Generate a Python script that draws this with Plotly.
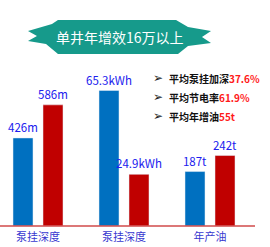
import plotly.graph_objects as go
from plotly.subplots import make_subplots

# ---- data ----
categories = ["泵挂深度", "泵挂深度", "年产油"]
before_values = [426, 65.3, 187]
after_values = [586, 24.9, 242]
before_labels = ["426m", "65.3kWh", "187t"]
after_labels = ["586m", "24.9kWh", "242t"]
y_max = [803, 80, 570]
title_text = "单井年增效16万以上"
bullet_names = ["平均泵挂加深", "平均节电率", "平均年增油"]
bullet_values = ["37.6%", "61.9%", "55t"]

W, H = 270, 247
ML, MR, MT, MB = 0, 0, 60, 21
PW, PH = W - ML - MR, H - MT - MB

def px(x):
    return (x - ML) / PW

def py(y):
    return (H - MB - y) / PH

FONT = "Noto Sans CJK SC"
BLUE = "#0070C0"
RED = "#C00000"

fig = make_subplots(rows=1, cols=3, horizontal_spacing=0)
domains = [(0, 76), (86, 162), (172, 248)]
for i in range(3):
    c = i + 1
    fig.add_trace(go.Bar(x=[categories[i]], y=[before_values[i]], text=[before_labels[i]],
                         marker_color=BLUE, textposition="outside", cliponaxis=False,
                         constraintext="none",
                         textfont=dict(color="#2020ee", size=11.5, family=FONT),
                         showlegend=False), row=1, col=c)
    fig.add_trace(go.Bar(x=[categories[i]], y=[after_values[i]], text=[after_labels[i]],
                         marker_color=RED, textposition="outside", cliponaxis=False,
                         constraintext="none",
                         textfont=dict(color="#2020ee", size=11.5, family=FONT),
                         showlegend=False), row=1, col=c)
    xa = "xaxis" if i == 0 else f"xaxis{c}"
    ya = "yaxis" if i == 0 else f"yaxis{c}"
    fig.layout[xa].update(domain=[px(domains[i][0]), px(domains[i][1])], showgrid=False,
                          showline=False, ticks="", zeroline=False, ticklabelstandoff=3,
                          tickfont=dict(color="#3838d0", size=11, family=FONT))
    fig.layout[ya].update(range=[0, y_max[i]], visible=False, showgrid=False)

fig.update_layout(
    width=W, height=H, margin=dict(l=ML, r=MR, t=MT, b=MB),
    paper_bgcolor="white", plot_bgcolor="white",
    barmode="group", bargap=0.2105, bargroupgap=1/3,
    font=dict(family=FONT),
)

# baseline
fig.add_shape(type="line", xref="paper", yref="paper", x0=px(0), x1=px(255), y0=0, y1=0,
              line=dict(color="#d04a4a", width=1.5), layer="above")

# banner
pts = [(28, 31), (52, 24), (58, 20), (176, 20), (188, 27), (211, 31), (202, 37), (211, 43),
       (188, 46), (178, 54), (58, 54), (46, 44), (28, 41), (37, 36)]
path = "M " + " L ".join(f"{px(x):.4f},{py(y):.4f}" for x, y in pts) + " Z"
fig.add_shape(type="path", xref="paper", yref="paper", path=path,
              fillcolor="#169a8b", line=dict(width=0), layer="above")
fig.add_annotation(xref="paper", yref="paper", x=px(120), y=py(37), text=title_text,
                   showarrow=False, font=dict(color="white", size=14, family=FONT),
                   xanchor="center", yanchor="middle")

# bullets
bullet_y = [78, 97, 116]
for name, val, yy in zip(bullet_names, bullet_values, bullet_y):
    fig.add_annotation(xref="paper", yref="paper", x=px(158), y=py(yy), text="➢",
                       showarrow=False, font=dict(color="#222222", size=12, family="DejaVu Sans"),
                       xanchor="center", yanchor="middle")
    fig.add_annotation(xref="paper", yref="paper", x=px(167), y=py(yy),
                       text=f"<b>{name}<span style='color:#ff1a1a'>{val}</span></b>",
                       showarrow=False, font=dict(color="#111111", size=10, family=FONT),
                       xanchor="left", yanchor="middle")

fig.write_html("out.html")
